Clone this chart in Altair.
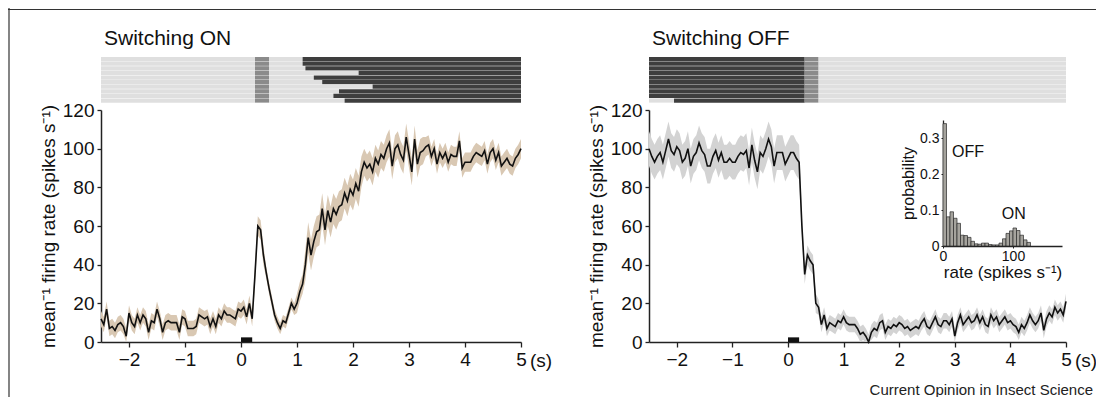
import altair as alt
import numpy as np
import pandas as pd

W, H = 1088, 389
FONT = "Liberation Sans"

# ---------------- data ----------------
# mean firing rate, 0.05 s steps from -2.5 s to 5.0 s
on_rate = [
    12, 9, 17, 7, 8, 6, 9, 10, 8, 3,
    15, 10, 8, 14, 10, 14, 12, 5, 11, 10,
    17, 12, 5, 10, 11, 10, 10, 10, 5, 13,
    12, 7, 7, 7, 8, 14, 13, 12, 13, 8,
    12, 8, 14, 12, 16, 14, 14, 13, 12, 17,
    16, 18, 13, 20, 12, 35, 60, 58, 45, 36,
    28, 21, 14, 10, 7, 11, 10, 15, 20, 17,
    20, 26, 30, 40, 54, 45, 52, 57, 58, 69,
    58, 68, 62, 69, 66, 70, 71, 77, 73, 79,
    76, 82, 78, 88, 93, 90, 92, 88, 95, 92,
    97, 95, 100, 103, 91, 100, 102, 97, 94, 106,
    97, 88, 105, 92, 98, 99, 101, 102, 96, 100,
    92, 98, 95, 98, 93, 97, 96, 96, 104, 90,
    93, 93, 93, 96, 98, 97, 96, 99, 92, 98,
    100, 94, 98, 91, 93, 95, 92, 91, 95, 97,
    100,
]
off_rate = [
    100, 96, 93, 96, 98, 93, 99, 105, 99, 97,
    101, 99, 93, 95, 100, 91, 96, 98, 103, 99,
    97, 91, 91, 96, 99, 94, 98, 93, 93, 95,
    93, 93, 96, 98, 97, 99, 90, 102, 94, 88,
    98, 96, 100, 105, 101, 91, 98, 98, 98, 92,
    95, 98, 98, 95, 93, 60, 35, 45, 42, 40,
    20, 18, 9, 14, 7, 10, 9, 8, 11, 10,
    13, 10, 9, 9, 9, 7, 4, 5, 3, 0,
    5, 7, 6, 10, 11, 5, 8, 7, 9, 8,
    10, 9, 7, 8, 6, 7, 8, 7, 10, 12,
    8, 7, 10, 13, 9, 8, 11, 11, 9, 12,
    3, 10, 14, 9, 11, 13, 10, 11, 14, 10,
    13, 9, 8, 14, 11, 13, 9, 11, 13, 10,
    11, 9, 8, 5, 9, 7, 10, 14, 11, 9,
    11, 15, 6, 12, 15, 13, 18, 15, 17, 14,
    21,
]
# error band half-width per time segment (start s, end s, spikes/s)
on_band = [(-2.5, 0.22, 4), (0.22, 0.42, 5), (0.42, 1.0, 3), (1.0, 1.12, 5),
           (1.12, 2.2, 8), (2.2, 3.3, 7), (3.3, 5.01, 5)]
off_band = [(-2.5, 0.22, 9), (0.22, 0.52, 5), (0.52, 5.01, 4)]

# stimulus
stim_start = [0.0]
stim_end = [0.2]

# raster: per-trial onset of sustained firing (ON) and per-trial start of dense firing (OFF)
on_trial_onset = [1.1, 1.1, 1.15, 2.1, 1.3, 1.45, 2.35, 1.75, 1.65, 1.85]
off_trial_start = [-2.5, -2.5, -2.5, -2.5, -2.5, -2.5, -2.5, -2.5, -2.5, -2.05]
sparse_density = 0.11
burst_density = 0.42
dense_density = 0.74

# inset histogram (bin width 5 spikes/s)
hist_bin_start = list(range(0, 125, 5))
hist_prob = [0.34, 0.081, 0.095, 0.077, 0.063, 0.03, 0.029, 0.024, 0.013, 0.006,
             0.005, 0.008, 0.008, 0.004, 0.003, 0.003, 0.008, 0.02, 0.035, 0.042,
             0.05, 0.043, 0.03, 0.017, 0.01]

x_ticks = [-2, -1, 0, 1, 2, 3, 4, 5]
y_ticks = [0, 20, 40, 60, 80, 100, 120]
inset_y_ticks = [0, 0.1, 0.2, 0.3]
inset_x_ticks = [0, 100]

YLAB = "mean\u207b\u00b9 firing rate (spikes s\u207b\u00b9)"


def series_df(rates, segs):
    n = len(rates)
    t = np.round(np.linspace(-2.5, 5.0, n), 3)
    hw = np.zeros(n)
    for a, b, w in segs:
        hw[(t >= a - 1e-9) & (t < b)] = w
    r = np.array(rates, float)
    return pd.DataFrame({"t": t, "rate": r, "lo": np.clip(r - hw, 0, None), "hi": r + hw})


def raster_on_df():
    rows = []
    for i, on in enumerate(on_trial_onset):
        rows += [(i, -2.5, 0.25, sparse_density), (i, 0.25, 0.5, burst_density),
                 (i, 0.5, on, sparse_density), (i, on, 5.0, dense_density)]
    return pd.DataFrame(rows, columns=["row", "start", "end", "density"])


def raster_off_df():
    rows = []
    for i, st in enumerate(off_trial_start):
        if st > -2.5:
            rows.append((i, -2.5, st, sparse_density))
        rows += [(i, st, 0.3, dense_density), (i, 0.3, 0.55, burst_density),
                 (i, 0.55, 5.0, sparse_density)]
    return pd.DataFrame(rows, columns=["row", "start", "end", "density"])


AX = dict(labelFont=FONT, titleFont=FONT, labelColor="#111", titleColor="#111",
          domainColor="#222", tickColor="#222", grid=False, labelFlush=False,
          labelOverlap=False, titleFontWeight="normal")


def panel(df, rast, band_color, xr, title, title_x):
    xs = lambda: alt.Scale(domain=[-2.5, 5], range=xr, nice=False, zero=False)
    ys = lambda: alt.Scale(domain=[0, 120], range=[334, 102], nice=False, zero=False)
    rs = lambda: alt.Scale(domain=[0, 10], range=[49, 95], nice=False, zero=False)
    layers = []
    layers.append(
        alt.Chart(rast).transform_calculate(r1="datum.row + 0.92").mark_rect().encode(
            x=alt.X("start:Q", scale=xs(), axis=None), x2="end:Q",
            y=alt.Y("row:Q", scale=rs(), axis=None), y2="r1:Q",
            color=alt.Color("density:Q", scale=alt.Scale(domain=[0, 1], range=["#ffffff", "#000000"]), legend=None),
        )
    )
    layers.append(
        alt.Chart(df).mark_area(color=band_color, opacity=1).encode(
            x=alt.X("t:Q", scale=xs(), axis=None),
            y=alt.Y("lo:Q", scale=ys(), axis=None), y2="hi:Q",
        )
    )
    layers.append(
        alt.Chart(df).mark_line(color="#111", strokeWidth=1.6).encode(
            x=alt.X("t:Q", scale=xs(), axis=alt.Axis(
                values=x_ticks, orient="bottom", offset=334 - H, title=None,
                labelFontSize=19, tickSize=5, labelPadding=3, domainWidth=1.5, tickWidth=1.3, **AX)),
            y=alt.Y("rate:Q", scale=ys(), axis=alt.Axis(
                values=y_ticks, orient="left", offset=-xr[0], title=YLAB,
                labelFontSize=19, titleFontSize=19, tickSize=4, labelPadding=3, titlePadding=4,
                domainWidth=1.5, tickWidth=1.3, **AX)),
        )
    )
    stim = pd.DataFrame({"s0": stim_start, "s1": stim_end})
    layers.append(
        alt.Chart(stim).mark_rect(color="#111").encode(
            x=alt.X("s0:Q", scale=xs(), axis=None), x2="s1:Q",
            y=alt.YDatum(0, scale=ys(), axis=None), y2=alt.datum(2.4),
        )
    )
    layers.append(
        alt.Chart(pd.DataFrame({"a": [0]})).mark_text(
            text="(s)", font=FONT, fontSize=19, align="left", baseline="middle", dx=9, color="#111"
        ).encode(x=alt.XDatum(5, scale=xs(), axis=None), y=alt.value(353))
    )
    layers.append(
        alt.Chart(pd.DataFrame({"a": [0]})).mark_text(
            text=title, font=FONT, fontSize=21, align="left", baseline="alphabetic", color="#111"
        ).encode(x=alt.value(title_x), y=alt.value(37))
    )
    return layers


def inset():
    hx = lambda: alt.Scale(domain=[0, 170], range=[935, 1054], nice=False, zero=False)
    hy = lambda: alt.Scale(domain=[0, 0.35], range=[238, 112], nice=False, zero=False)
    hdf = pd.DataFrame({"b0": hist_bin_start, "p": hist_prob})
    bars = alt.Chart(hdf).transform_calculate(b1="datum.b0 + 5").mark_rect(
        color="#a5a39d", stroke="#2a2a2a", strokeWidth=0.7).encode(
        x=alt.X("b0:Q", scale=hx(), axis=alt.Axis(
            values=inset_x_ticks, orient="bottom", offset=238 - H, title="rate (spikes s\u207b\u00b9)",
            labelFontSize=14, titleFontSize=17, tickSize=2, labelPadding=1, titlePadding=1,
            domainWidth=1.3, **AX)),
        x2="b1:Q",
        y=alt.Y("p:Q", scale=hy(), axis=alt.Axis(
            values=inset_y_ticks, orient="left", offset=-935, title="probability",
            labelExpr="datum.value == 0 ? '0' : format(datum.value, '.1f')",
            labelFontSize=14, titleFontSize=16, tickSize=2, labelPadding=2, titlePadding=3,
            domainWidth=1.3, **AX)),
        y2=alt.datum(0),
    )
    lab = pd.DataFrame({"x": [13, 84], "y": [0.26, 0.088], "txt": ["OFF", "ON"]})
    texts = alt.Chart(lab).mark_text(font=FONT, fontSize=16, align="left", baseline="middle", color="#111").encode(
        x=alt.X("x:Q", scale=hx(), axis=None), y=alt.Y("y:Q", scale=hy(), axis=None), text="txt:N")
    return [bars, texts]


on_df = series_df(on_rate, on_band)
off_df = series_df(off_rate, off_band)

layers = []
layers += panel(on_df, raster_on_df(), "#d9c8b3", [93, 513], "Switching ON", 96)
layers += panel(off_df, raster_off_df(), "#d3d3d3", [641, 1058], "Switching OFF", 644)
layers += inset()

one = pd.DataFrame({"a": [0]})
layers.append(alt.Chart(one).mark_rule(color="#333", strokeWidth=1.2).encode(
    x=alt.value(1), y=alt.value(0), y2=alt.value(H)))
layers.append(alt.Chart(one).mark_rule(color="#333", strokeWidth=1.2).encode(
    x=alt.value(0), x2=alt.value(W), y=alt.value(1.5)))
layers.append(alt.Chart(one).mark_text(
    text="Current Opinion in Insect Science", font=FONT, fontSize=15, align="right",
    baseline="alphabetic", color="#222").encode(x=alt.value(1085), y=alt.value(387)))

chart = alt.layer(*layers).resolve_scale(x="independent", y="independent").properties(
    width=W, height=H, padding=0, autosize=alt.AutoSizeParams(type="none"),
    background="white",
).configure_view(stroke=None)

chart.save("out.html", embed_options={"renderer": "svg", "actions": False})
